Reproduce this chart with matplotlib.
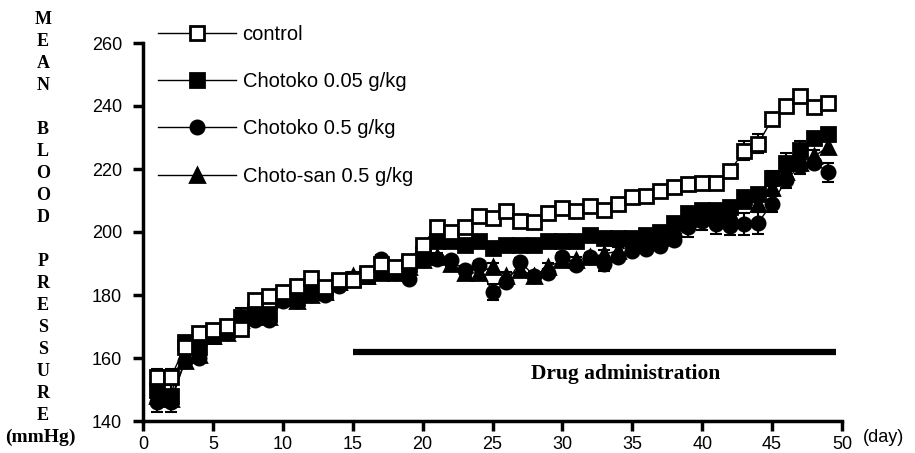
import numpy as np
import matplotlib.pyplot as plt

plt.rcParams['font.family'] = ['Liberation Sans', 'DejaVu Sans']

days = list(range(1, 50))

control = [153.9, 153.9, 163.6, 168.0, 168.9, 170.2, 169.1, 178.4, 179.8, 180.9,
           182.7, 185.5, 182.5, 184.8, 184.8, 187.0, 190.0, 188.8, 190.8, 195.9,
           201.5, 200.0, 201.5, 205.0, 204.3, 206.8, 203.6, 203.3, 205.9, 207.5,
           206.8, 208.2, 207.0, 209.0, 211.2, 211.4, 213.0, 214.4, 215.1, 215.6,
           215.6, 219.4, 225.8, 228.0, 235.8, 240.0, 243.2, 239.6, 241.0]
chotoko_005 = [150, 148, 165, 163.5, 167, 169, 173, 175, 174, 179,
               179, 181, 181, 184, 185, 186, 187, 187, 190, 193,
               197, 197, 196, 197, 195, 196, 196, 196, 197, 197,
               197, 199, 198, 198, 198, 199, 200, 203, 206, 207,
               207, 208, 211, 212, 217, 222, 226, 230, 231]
chotoko_05 = [146, 146, 159, 160, 167, 168, 171, 172, 172, 178,
              178, 180, 180, 183, 185, 187, 191.5, 187, 185, 191,
              191.5, 191, 188, 189.5, 181, 184, 190.5, 186, 187, 192,
              189.5, 192, 190, 192, 194, 194.5, 195.5, 197.5, 201.5, 203.5,
              202.5, 202, 202.5, 203, 209, 216.5, 221, 222, 219]
chotosan_05 = [148, 147, 159, 161, 167, 168, 172, 174, 173, 179,
               178, 180, 181, 184, 186, 186, 188, 188, 189, 191,
               192, 190, 187, 187, 189, 186, 188, 186, 189, 191,
               191, 192, 193, 194, 196, 197, 198, 201, 204, 205,
               205, 206, 210, 209, 214, 219, 222, 224, 227]

# standard errors (read from visible caps)
err_control = [2.5, 2.5, 1.2, 1.2, 1.2, 1.2, 1.2, 1.2, 1.2, 1.2,
               1.2, 1.2, 1.2, 1.2, 1.2, 1.2, 1.2, 1.2, 1.2, 1.2,
               1.2, 1.2, 1.2, 1.2, 1.2, 1.2, 1.2, 1.2, 1.2, 1.2,
               1.2, 1.2, 1.2, 1.2, 1.2, 1.2, 1.2, 1.2, 1.2, 1.2,
               1.2, 1.2, 3.0, 3.0, 1.2, 1.2, 2.0, 1.2, 1.2]
err_005 = [3.0, 3.5, 1.2, 1.2, 1.2, 1.2, 3.0, 1.2, 1.2, 1.2,
           1.2, 1.2, 1.2, 1.2, 1.2, 1.2, 1.2, 1.2, 1.2, 1.2,
           1.2, 1.2, 1.2, 1.2, 1.2, 1.2, 1.2, 1.2, 1.2, 1.2,
           1.2, 1.2, 1.2, 1.2, 1.2, 1.2, 1.2, 1.2, 1.2, 1.2,
           1.2, 1.2, 1.2, 1.2, 2.5, 3.0, 3.0, 1.2, 2.0]
err_05 = [3.0, 3.0, 1.2, 1.2, 1.2, 1.2, 1.2, 1.2, 1.2, 1.2,
          1.2, 1.2, 1.2, 1.2, 1.2, 1.2, 1.2, 1.2, 1.2, 1.2,
          1.2, 1.2, 1.2, 1.2, 2.5, 1.2, 1.2, 1.2, 1.2, 1.2,
          1.2, 1.2, 2.5, 1.2, 1.2, 1.2, 1.2, 1.2, 3.0, 3.0,
          3.0, 3.0, 3.5, 3.5, 2.5, 2.5, 2.5, 1.2, 3.0]
err_san = [2.5, 2.5, 1.2, 1.2, 1.2, 1.2, 1.2, 1.2, 1.2, 1.2,
           1.2, 1.2, 1.2, 1.2, 1.2, 1.2, 1.2, 1.2, 1.2, 1.2,
           1.2, 1.2, 1.2, 1.2, 1.2, 1.2, 1.2, 1.2, 1.2, 1.2,
           1.2, 1.2, 1.2, 1.2, 1.2, 1.2, 1.2, 1.2, 1.2, 1.2,
           1.2, 1.2, 2.5, 2.5, 2.0, 2.0, 2.0, 2.0, 2.0]

series = [
    ('control', control, err_control, 's', 'white'),
    ('Chotoko 0.05 g/kg', chotoko_005, err_005, 's', 'black'),
    ('Chotoko 0.5 g/kg', chotoko_05, err_05, 'o', 'black'),
    ('Choto-san 0.5 g/kg', chotosan_05, err_san, '^', 'black'),
]

fig = plt.figure(figsize=(9.15, 4.53), dpi=100)
ax = fig.add_axes([143 / 915, 1 - 421 / 453, (842 - 143) / 915, (421 - 43) / 453])

handles = []
for name, vals, err, mk, fc in reversed(series):
    ax.errorbar(days, vals, yerr=err, fmt='none', ecolor='black',
                elinewidth=1.5, capsize=4, capthick=1.5, zorder=2)
    h, = ax.plot(days, vals, color='black', lw=1.0, marker=mk, ms=9.5,
                 mfc=fc, mec='black', mew=2, label=name, zorder=3)
    handles.append(h)
handles = handles[::-1]

# drug administration bar
ax.plot([15, 49.6], [162, 162], color='black', lw=4.5, solid_capstyle='butt')
ax.text(34.5, 155, 'Drug administration', ha='center', va='center',
        fontsize=15.5, fontweight='bold', family='Liberation Serif')

ax.set_xlim(0, 50)
ax.set_ylim(140, 260)
ax.set_xticks(range(0, 51, 5))
ax.set_yticks(range(140, 261, 20))
ax.tick_params(labelsize=13, width=2.5, length=7, direction='out')
ax.tick_params(axis='y', pad=8)
ax.tick_params(axis='x', pad=4)
for s in ['top', 'right']:
    ax.spines[s].set_visible(False)
for s in ['left', 'bottom']:
    ax.spines[s].set_linewidth(2.5)

fig.legend(handles=handles, loc='upper left', bbox_to_anchor=(158 / 915, 1 - 25 / 453),
           frameon=False, fontsize=14.5, handlelength=3.85, handletextpad=0.35,
           labelspacing=1.4, borderpad=0, borderaxespad=0)

# stacked y-axis label
label = 'MEAN BLOOD PRESSURE'
y = 1 - 19 / 453
for ch in label:
    if ch != ' ':
        fig.text(43 / 915, y, ch, ha='center', va='center', fontsize=13,
                 fontweight='bold', family='Liberation Serif')
    y -= 22.0 / 453
fig.text(40 / 915, 1 - 437 / 453, '(mmHg)', ha='center', va='center', fontsize=14,
         fontweight='bold', family='Liberation Serif')
fig.text(883 / 915, 1 - 437 / 453, '(day)', ha='center', va='center', fontsize=13)

fig.savefig('out.png', dpi=100)
